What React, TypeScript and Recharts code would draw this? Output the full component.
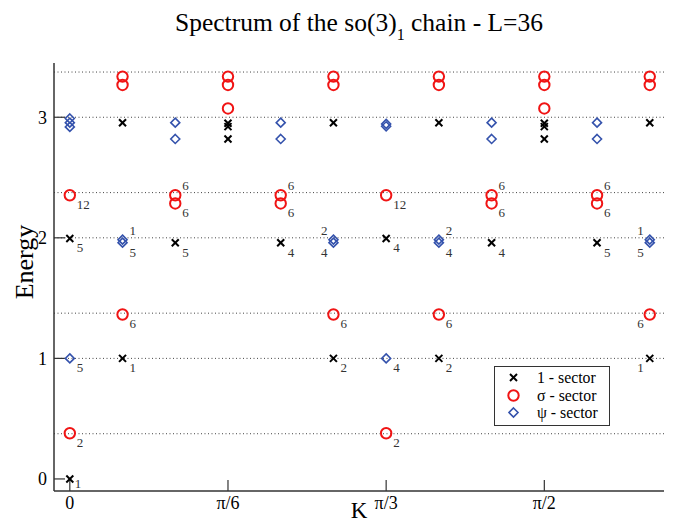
import { ScatterChart, Scatter, XAxis, YAxis, ReferenceLine, Legend } from 'recharts';

// momentum index n, K = n*pi/18 (L=36); ticks every pi/6
const kTicks = [0, 3, 6, 9];
const kTickLabels = ['0', 'π/6', 'π/3', 'π/2'];
const energyTicks = [0, 1, 2, 3];
const energyMinorTicks = [0.5, 1.5, 2.5];
// conformal towers 0, 3/8 (+ integers)
const levels = [0.375, 1, 1.375, 2, 2.375, 3, 3.375];

const identityRows = [
  [0, 0], [0, 1.995], [1, 1], [1, 2.955], [2, 1.959], [3, 2.95], [3, 2.922], [3, 2.82],
  [4, 1.959], [5, 1], [5, 2.955], [6, 1.995], [7, 1], [7, 2.955], [8, 1.959],
  [9, 2.95], [9, 2.922], [9, 2.82], [10, 1.959], [11, 1], [11, 2.955],
];
const sigmaRows = [
  [0, 0.379], [0, 2.353], [1, 1.364], [1, 3.268], [1, 3.337], [2, 2.285], [2, 2.353],
  [3, 3.073], [3, 3.268], [3, 3.337], [4, 2.285], [4, 2.353], [5, 1.364], [5, 3.268], [5, 3.337],
  [6, 0.379], [6, 2.353], [7, 1.364], [7, 3.268], [7, 3.337], [8, 2.285], [8, 2.353],
  [9, 3.073], [9, 3.268], [9, 3.337], [10, 2.285], [10, 2.353], [11, 1.364], [11, 3.268], [11, 3.337],
];
const psiRows = [
  [0, 1], [0, 2.92], [0, 2.955], [0, 2.99], [1, 1.96], [1, 1.985], [2, 2.82], [2, 2.955],
  [4, 2.82], [4, 2.955], [5, 1.96], [5, 1.985], [6, 1], [6, 2.925], [6, 2.945],
  [7, 1.96], [7, 1.985], [8, 2.82], [8, 2.955], [10, 2.82], [10, 2.955], [11, 1.96], [11, 1.985],
];
// degeneracies: k, energy, text, side of the marker
const degeneracyRows: [number, number, string, string][] = [
  [0, 0, '1', 'r'], [0, 0.379, '2', 'br'], [0, 1, '5', 'br'], [0, 1.995, '5', 'br'], [0, 2.353, '12', 'br'],
  [1, 1, '1', 'br'], [1, 1.364, '6', 'br'], [1, 1.985, '1', 'tr'], [1, 1.96, '5', 'br'],
  [2, 1.959, '5', 'br'], [2, 2.353, '6', 'tr'], [2, 2.285, '6', 'br'],
  [4, 1.959, '4', 'br'], [4, 2.353, '6', 'tr'], [4, 2.285, '6', 'br'],
  [5, 1, '2', 'br'], [5, 1.364, '6', 'br'], [5, 1.985, '2', 'tl'], [5, 1.96, '4', 'bl'],
  [6, 0.379, '2', 'br'], [6, 1, '4', 'br'], [6, 1.995, '4', 'br'], [6, 2.353, '12', 'br'],
  [7, 1, '2', 'br'], [7, 1.364, '6', 'br'], [7, 1.985, '2', 'tr'], [7, 1.96, '4', 'br'],
  [8, 1.959, '4', 'br'], [8, 2.353, '6', 'tr'], [8, 2.285, '6', 'br'],
  [10, 1.959, '5', 'br'], [10, 2.353, '6', 'tr'], [10, 2.285, '6', 'br'],
  [11, 1, '1', 'bl'], [11, 1.364, '6', 'bl'], [11, 1.985, '1', 'tl'], [11, 1.96, '5', 'bl'],
];

const toPoints = (rows: number[][]) => rows.map(([k, e]) => ({ k, e }));
const identity = toPoints(identityRows);
const sigma = toPoints(sigmaRows);
const psi = toPoints(psiRows);
const degeneracies = degeneracyRows.map(([k, e, d, at]) => ({ k, e, d, at }));

const FONT = '"Liberation Serif", "DejaVu Serif", serif';
const RED = '#f01414';
const BLUE = '#3452ac';
const AXIS = '#333';

const Cross = ({ cx, cy }: any) => (
  <g stroke="#000" strokeWidth={2}>
    <line x1={cx - 3.5} y1={cy - 3.5} x2={cx + 3.5} y2={cy + 3.5} />
    <line x1={cx - 3.5} y1={cy + 3.5} x2={cx + 3.5} y2={cy - 3.5} />
  </g>
);
const Ring = ({ cx, cy }: any) => <circle cx={cx} cy={cy} r={5.2} fill="none" stroke={RED} strokeWidth={2} />;
const Diamond = ({ cx, cy }: any) => (
  <polygon
    points={`${cx},${cy - 4.5} ${cx + 4.5},${cy} ${cx},${cy + 4.5} ${cx - 4.5},${cy}`}
    fill="none"
    stroke={BLUE}
    strokeWidth={1.6}
  />
);

const sides: Record<string, [number, number, string]> = {
  r: [5, 9, 'start'],
  br: [7, 14, 'start'],
  tr: [7, -5, 'start'],
  tl: [-6, -5, 'end'],
  bl: [-6, 14, 'end'],
};
const DegLabel = ({ cx, cy, payload }: any) => {
  const [dx, dy, anchor] = sides[payload.at];
  return (
    <text
      x={cx + dx}
      y={cy + dy}
      textAnchor={anchor as any}
      fontSize={13}
      fontFamily={FONT}
      fill="#333"
      stroke="none"
    >
      {payload.d}
    </text>
  );
};

const legendItems = [
  { name: '1 - sector', Shape: Cross },
  { name: 'σ - sector', Shape: Ring },
  { name: 'ψ - sector', Shape: Diamond },
];

const renderLegend = () => (
  <div
    style={{
      width: 116,
      height: 60,
      boxSizing: 'border-box',
      border: `1px solid ${AXIS}`,
      background: '#fff',
      paddingTop: 2,
      fontFamily: FONT,
      fontSize: 15.8,
      color: '#000',
    }}
  >
    {legendItems.map(({ name, Shape }) => (
      <div key={name} style={{ display: 'flex', alignItems: 'center', height: 17.5 }}>
        <svg width={37} height={17} style={{ display: 'block' }}>
          <Shape cx={18.5} cy={8.5} />
        </svg>
        <span style={{ display: 'block', marginLeft: 5, height: 17.5, lineHeight: '17.5px', whiteSpace: 'nowrap' }}>{name}</span>
      </div>
    ))}
  </div>
);

export default function App() {
  return (
    <div style={{ position: 'absolute', left: 0, top: 0, width: 673, height: 526, background: '#fff', fontFamily: FONT }}>
      <div style={{ position: 'absolute', top: 8, left: 54, width: 610, textAlign: 'center', fontSize: 25.5, color: '#000' }}>
        Spectrum of the so(3)<sub style={{ fontSize: 16, verticalAlign: -9 }}>1</sub> chain - L=36
      </div>
      <ScatterChart width={673} height={526} margin={{ top: 63, right: 9, left: 0, bottom: 0 }}>
        <XAxis
          dataKey="k"
          type="number"
          domain={[-0.3, 11.27]}
          allowDataOverflow
          ticks={kTicks}
          interval={0}
          tickFormatter={(v) => kTickLabels[kTicks.indexOf(v)]}
          tickSize={-11}
          tickMargin={16}
          height={35}
          axisLine={{ stroke: AXIS, strokeWidth: 1.5 }}
          tickLine={{ stroke: AXIS, strokeWidth: 1.2 }}
          tick={{ fill: '#000', fontSize: 18, fontFamily: FONT }}
          label={({ viewBox }: any) => (
            <text x={viewBox.x + viewBox.width / 2} y={viewBox.y + 27} textAnchor="middle" fontSize={23} fontFamily={FONT} fill="#000">
              K
            </text>
          )}
        />
        <XAxis
          xAxisId="top"
          orientation="top"
          mirror
          type="number"
          domain={[-0.3, 11.27]}
          allowDataOverflow
          ticks={kTicks}
          interval={0}
          tickSize={11}
          height={0}
          tick={false}
          axisLine={{ stroke: AXIS, strokeWidth: 1.5 }}
          tickLine={{ stroke: AXIS, strokeWidth: 1.2 }}
        />
        <YAxis
          dataKey="e"
          type="number"
          domain={[-0.1, 3.45]}
          allowDataOverflow
          ticks={energyTicks}
          interval={0}
          tickSize={-11}
          tickMargin={18}
          width={54}
          axisLine={{ stroke: AXIS, strokeWidth: 1.5 }}
          tickLine={{ stroke: AXIS, strokeWidth: 1.2 }}
          tick={{ fill: '#000', fontSize: 18, fontFamily: FONT }}
          label={({ viewBox }: any) => (
            <text
              transform={`translate(${viewBox.x + 33},${viewBox.y + viewBox.height / 2 - 15}) rotate(-90)`}
              textAnchor="middle"
              fontSize={26}
              fontFamily={FONT}
              fill="#000"
            >
              Energy
            </text>
          )}
        />
        <YAxis
          yAxisId="leftMinor"
          orientation="left"
          mirror
          type="number"
          domain={[-0.1, 3.45]}
          allowDataOverflow
          ticks={energyMinorTicks}
          interval={0}
          tickSize={5}
          width={0}
          tick={false}
          axisLine={false}
          tickLine={{ stroke: AXIS, strokeWidth: 1.2 }}
        />
        <YAxis
          yAxisId="right"
          orientation="right"
          mirror
          type="number"
          domain={[-0.1, 3.45]}
          allowDataOverflow
          ticks={energyTicks}
          interval={0}
          tickSize={10}
          width={0}
          tick={false}
          axisLine={{ stroke: AXIS, strokeWidth: 1.5 }}
          tickLine={{ stroke: AXIS, strokeWidth: 1.2 }}
        />
        <YAxis
          yAxisId="rightMinor"
          orientation="right"
          mirror
          type="number"
          domain={[-0.1, 3.45]}
          allowDataOverflow
          ticks={energyMinorTicks}
          interval={0}
          tickSize={5}
          width={0}
          tick={false}
          axisLine={false}
          tickLine={{ stroke: AXIS, strokeWidth: 1.2 }}
        />
        {levels.map((lv) => (
          <ReferenceLine key={lv} y={lv} stroke="#444" strokeWidth={1} strokeDasharray="1 2.5" />
        ))}
        <Scatter data={degeneracies} shape={DegLabel} isAnimationActive={false} legendType="none" />
        <Scatter name="1 - sector" data={identity} shape={Cross} isAnimationActive={false} />
        <Scatter name="σ - sector" data={sigma} shape={Ring} isAnimationActive={false} />
        <Scatter name="ψ - sector" data={psi} shape={Diamond} isAnimationActive={false} />
        <Legend
          layout="vertical"
          align="center"
          verticalAlign="middle"
          content={renderLegend}
          wrapperStyle={{ left: 494, top: 366, width: 116, height: 60 }}
        />
      </ScatterChart>
    </div>
  );
}
